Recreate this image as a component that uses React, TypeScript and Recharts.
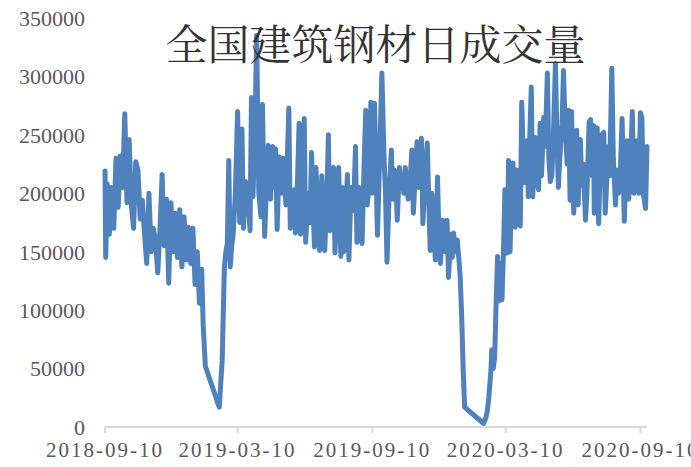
import { LineChart, Line, XAxis, YAxis } from 'recharts'

// days since 2018-09-10
const dayOffsets = [
  0, 1, 3, 6, 9, 12, 15, 18, 21, 24, 27, 30, 33, 36, 39, 42, 45, 48, 51, 54, 57, 60, 63, 66, 69, 72, 75, 78, 81, 84, 87, 90, 93, 96, 99,
  102, 105, 108, 111, 114, 117, 120, 123, 126, 129, 132, 134, 137,
  156, 160, 163, 165, 167, 169, 171, 173, 175, 178, 181, 184, 187, 189, 192, 195, 198, 200, 202, 205, 207, 210,
  213, 215, 218, 221, 223, 226, 229, 231, 233, 235, 238, 241, 244, 247, 251, 253, 256, 258, 260, 263, 265, 267, 270, 272, 274, 277, 280,
  282, 284, 286, 288, 291, 293, 296, 298, 300, 303, 305, 307, 310, 312, 314, 317, 319,
  322, 324, 326, 329, 331, 333, 336, 338, 340, 342, 344, 347, 349, 351, 354, 356, 358, 361, 363, 365, 368, 370, 372, 375, 378, 381, 383,
  385, 388, 391, 393, 395, 397, 399, 402, 404, 406, 408, 410, 412, 414, 417, 419, 421, 424, 426, 428, 430, 432, 434, 437, 440, 442, 444,
  446, 449, 451, 454, 456, 458, 461, 463, 465, 467, 469, 472, 474, 476, 478, 481, 483, 485, 487, 489, 491,
  517, 520, 522, 524, 527, 528, 530, 532, 534, 536, 538, 540, 542, 544, 546, 549, 551, 553, 555, 557, 560, 562, 564, 567, 569, 572, 574,
  576, 578, 580, 582, 584, 587, 589, 592, 594, 596, 599, 601, 604, 606, 608, 610, 612, 615, 617, 619, 621, 624, 626, 628, 631, 633, 635,
  637, 640, 642, 644, 646, 649, 651, 653, 656, 658, 661, 663, 665, 667, 668, 670, 672, 674, 676, 678, 681, 683, 685, 687, 689, 692, 694,
  697, 699, 701, 703, 706, 709, 711, 713, 715, 717, 720, 722, 724, 726, 729, 731, 733, 735, 738, 740,
]

const volumes = [
  219000, 145000, 208000, 165000, 205000, 170000, 230000, 188000, 232000, 205000, 268000, 192000, 246000, 190000, 170000, 227000, 220000,
  178000, 194000, 165000, 140000, 200000, 150000, 170000, 160000, 132000, 168000, 216000, 155000, 195000, 123000, 192000, 150000, 183000,
  145000,
  186000, 137000, 180000, 143000, 171000, 140000, 170000, 122000, 150000, 106000, 135000, 88000, 52000,
  17000, 57000, 137000, 150000, 157000, 228000, 137000, 155000, 165000, 200000, 270000, 175000, 255000, 170000, 210000, 200000, 168000,
  282000, 197000, 260000, 335000, 200000,
  180000, 276000, 163000, 215000, 241000, 195000, 240000, 205000, 238000, 169000, 231000, 200000, 230000, 190000, 273000, 170000, 200000,
  203000, 166000, 215000, 260000, 165000, 210000, 264000, 158000, 200000, 175000,
  235000, 190000, 154000, 222000, 180000, 151000, 215000, 175000, 151000, 200000, 250000, 168000, 200000, 222000, 149000, 195000, 222000,
  146000, 205000, 150000, 190000, 216000, 143000, 205000, 185000, 200000, 240000, 158000, 205000, 185000, 157000, 230000, 271000, 190000,
  210000, 278000, 200000, 277000, 220000, 164000, 230000, 303000, 231000, 200000,
  141000, 200000, 237000, 195000, 220000, 215000, 177000, 222000, 205000, 215000, 200000, 222000, 205000, 195000, 215000, 237000, 183000,
  220000, 244000, 205000, 230000, 247000, 174000, 215000, 243000, 195000, 151000,
  200000, 168000, 143000, 214000, 160000, 140000, 177000, 160000, 150000, 177000, 128000, 165000, 145000, 166000, 150000, 160000, 145000,
  128000, 94000, 50000, 17000,
  3000, 8000, 14000, 25000, 49000, 66000, 50000, 60000, 106000, 146000, 108000, 140000, 109000, 149000, 203000, 149000, 228000, 150000,
  200000, 226000, 171000, 220000, 185000, 172000, 278000, 209000, 230000,
  245000, 197000, 250000, 291000, 197000, 248000, 215000, 203000, 260000, 215000, 265000, 240000, 303000, 230000, 210000, 215000, 245000,
  311000, 250000, 205000, 230000, 260000, 305000, 260000, 225000, 271000, 194000,
  270000, 183000, 235000, 254000, 190000, 246000, 207000, 225000, 177000, 200000, 261000, 263000, 215000, 258000, 183000, 230000, 256000,
  174000, 220000, 250000, 252000, 183000, 210000, 240000, 215000, 307000, 230000,
  190000, 220000, 200000, 207000, 264000, 176000, 220000, 245000, 195000, 215000, 270000, 200000, 225000, 245000, 200000, 269000, 265000,
  200000, 187000, 240000,
]

const tickDays = [0, 181, 365, 547, 731]
const tickLabels = ['2018-09-10', '2019-03-10', '2019-09-10', '2020-03-10', '2020-09-10']
const yTicks = [0, 50000, 100000, 150000, 200000, 250000, 300000, 350000]

const data = dayOffsets.map((d, i) => ({ day: d, volume: volumes[i] }))

const serif = '"Liberation Serif", "Times New Roman", serif'

export default function App() {
  return (
    <div style={{ position: 'absolute', left: 0, top: 0, width: 691, height: 467, background: '#fff' }}>
      <LineChart width={691} height={467} data={data} margin={{ top: 18, right: 44, bottom: 0, left: 0 }}>
        <XAxis
          dataKey="day"
          type="number"
          domain={[0, 740]}
          ticks={tickDays}
          interval={0}
          height={40}
          tickFormatter={(v) => tickLabels[tickDays.indexOf(v)] ?? ''}
          axisLine={{ stroke: '#d9d9d9', strokeWidth: 2 }}
          tickLine={{ stroke: '#d9d9d9', strokeWidth: 2 }}
          tickSize={6}
          tickMargin={9}
          tick={{ fontSize: 21, fill: '#595959', fontFamily: serif, letterSpacing: 2 }}
        />
        <YAxis
          type="number"
          domain={[0, 350000]}
          ticks={yTicks}
          width={105}
          axisLine={false}
          tickLine={false}
          tickSize={0}
          tickMargin={20}
          tick={{ fontSize: 22, fill: '#595959', fontFamily: serif }}
        />
        <Line
          type="linear"
          dataKey="volume"
          stroke="#4f81bd"
          strokeWidth={5}
          strokeLinejoin="round"
          strokeLinecap="round"
          dot={false}
          activeDot={false}
          isAnimationActive={false}
        />
      </LineChart>
      <div
        style={{
          position: 'absolute',
          left: 0,
          width: 751,
          top: 16,
          textAlign: 'center',
          fontSize: 42,
          lineHeight: '52px',
          color: '#333',
          fontFamily: '"Noto Serif CJK SC", "Noto Sans CJK SC", serif',
        }}
      >
        全国建筑钢材日成交量
      </div>
    </div>
  )
}
